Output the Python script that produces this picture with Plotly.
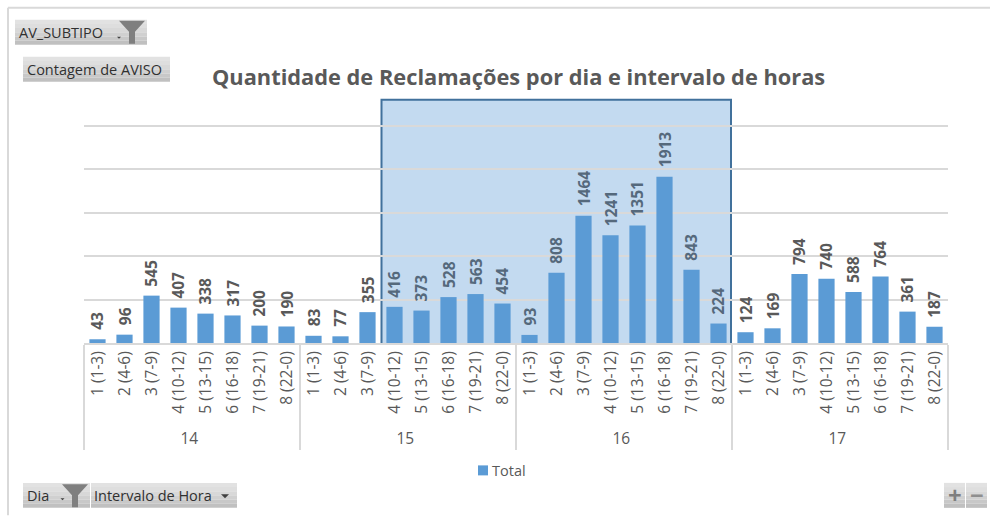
import plotly.graph_objects as go

days = ["14", "15", "16", "17"]
intervals = ["1 (1-3)", "2 (4-6)", "3 (7-9)", "4 (10-12)", "5 (13-15)", "6 (16-18)", "7 (19-21)", "8 (22-0)"]
values_14 = [43, 96, 545, 407, 338, 317, 200, 190]
values_15 = [83, 77, 355, 416, 373, 528, 563, 454]
values_16 = [93, 808, 1464, 1241, 1351, 1913, 843, 224]
values_17 = [124, 169, 794, 740, 588, 764, 361, 187]
series_name = "Total"
title = "Quantidade de Reclamações por dia e intervalo de horas"

W, H = 991, 516
L, R, T, B = 84, 948, 117.3, 343.5
FONT = "Open Sans"

level0 = [d for d in days for _ in intervals]
level1 = intervals * len(days)
vals = values_14 + values_15 + values_16 + values_17

fig = go.Figure(go.Bar(
    x=[level0, level1], y=vals, name=series_name, width=0.6,
    marker=dict(color="#5b9bd5", line_width=0),
    cliponaxis=False,
    showlegend=False,
))

def px(x):
    return (x - L) / (R - L)

def py(y):
    return (B - y) / (B - T)

shapes = []
annotations = []

# Data labels, rotated and lifted off the bars
for i, v in enumerate(vals):
    in_box = 11 <= i <= 23
    annotations.append(dict(xref="x", yref="y", x=i, y=v, text=str(v), showarrow=False, textangle=-90,
                            xanchor="center", yanchor="bottom", yshift=9, borderpad=0, borderwidth=0,
                            font=dict(family=FONT, size=15.5, weight="bold", color="#55697c" if in_box else "#595959")))

def rect(x0, y0, x1, y1, fill, line=None, width=0, layer="above"):
    shapes.append(dict(type="rect", xref="paper", yref="paper", x0=px(x0), x1=px(x1), y0=py(y0), y1=py(y1),
                       fillcolor=fill, line=dict(color=line, width=width) if line else dict(width=0), layer=layer))

def label(x, y, text, size=14.5, color="#303030", anchor="left", **kw):
    annotations.append(dict(xref="paper", yref="paper", x=px(x), y=py(y), text=text, showarrow=False,
                            xanchor=anchor, yanchor="middle", borderpad=0, borderwidth=0,
                            font=dict(family=FONT, size=size, color=color, **kw)))

def button(x0, y0, x1, y1):
    tops = [226, 222, 216, 208, 200, 192]
    n = len(tops)
    for i in range(n):
        c = tops[i]
        rect(x0, y0 + (y1 - y0) * i / n, x1, y0 + (y1 - y0) * (i + 1) / n, f"rgb({c},{c},{c})")

def funnel(cx, top):
    pts = [(cx - 13, top), (cx + 13, top), (cx + 3, top + 11), (cx + 3, top + 23), (cx - 3, top + 23), (cx - 3, top + 11)]
    path = "M" + " L".join(f"{px(a)},{py(b)}" for a, b in pts) + " Z"
    shapes.append(dict(type="path", xref="paper", yref="paper", path=path, fillcolor="#7f7f7f", line_width=0))

def caret(cx, cy, w=4):
    pts = [(cx - w, cy), (cx + w, cy), (cx, cy + w)]
    path = "M" + " L".join(f"{px(a)},{py(b)}" for a, b in pts) + " Z"
    shapes.append(dict(type="path", xref="paper", yref="paper", path=path, fillcolor="#404040", line_width=0))

# Outer frame
shapes.append(dict(type="line", xref="paper", yref="paper", x0=px(8), x1=px(990), y0=py(8), y1=py(8),
                   line=dict(color="#d9d9d9", width=2)))
shapes.append(dict(type="line", xref="paper", yref="paper", x0=px(8), x1=px(8), y0=py(8), y1=py(516),
                   line=dict(color="#d9d9d9", width=2)))

# Highlight box
rect(381.5, 100, 731, 344.5, "rgba(91,155,213,0.37)", "#41719c", 2, layer="between")

# Pivot buttons
button(15, 20, 147, 45)
label(19, 32.5, "AV_SUBTIPO")
funnel(132, 21)
caret(119, 37, 2)

button(23, 57, 170, 82)
label(27, 69.5, "Contagem de AVISO")

button(23, 483.5, 90, 508.5)
label(27, 496, "Dia")
funnel(75, 485)
caret(62.5, 499, 2)

button(91, 483.5, 237, 508.5)
label(94, 496, "Intervalo de Hora")
caret(225, 495, 4)

button(944, 483.5, 965, 508.5)
button(966, 483.5, 987, 508.5)
label(954.5, 495.5, "<b>+</b>", size=24, color="#7f7f7f", anchor="center")
label(976.5, 495.5, "<b>−</b>", size=24, color="#8f8f8f", anchor="center")

# Title
label(518.5, 77, title, size=21.8, color="#595959", anchor="center", weight="bold")

# Legend key
rect(478, 466, 488, 476, "#5b9bd5")
label(492, 471, series_name, size=14.5, color="#595959")

fig.update_layout(
    width=W, height=H, autosize=False,
    margin=dict(l=L, r=W - R, t=T, b=H - B, pad=0),
    paper_bgcolor="white", plot_bgcolor="white",
    font=dict(family=FONT, color="#595959", size=14),
    shapes=shapes, annotations=annotations,
    showlegend=False,
    xaxis=dict(type="multicategory", tickangle=-90, showdividers=True, dividercolor="#d9d9d9", dividerwidth=2,
               linecolor="#d9d9d9", linewidth=2, showline=True, ticks="", showgrid=False,
               tickfont=dict(family=FONT, size=15.5, color="#595959")),
    yaxis=dict(range=[0, 2600], tickvals=[500, 1000, 1500, 2000, 2500], showticklabels=False, showgrid=True,
               gridcolor="#d9d9d9", gridwidth=1.5, zeroline=False, showline=False, ticks=""),
)

fig.write_html("out.html", config=dict(displayModeBar=False),
               post_script="document.body.style.margin='0';document.documentElement.style.overflow='hidden';")
